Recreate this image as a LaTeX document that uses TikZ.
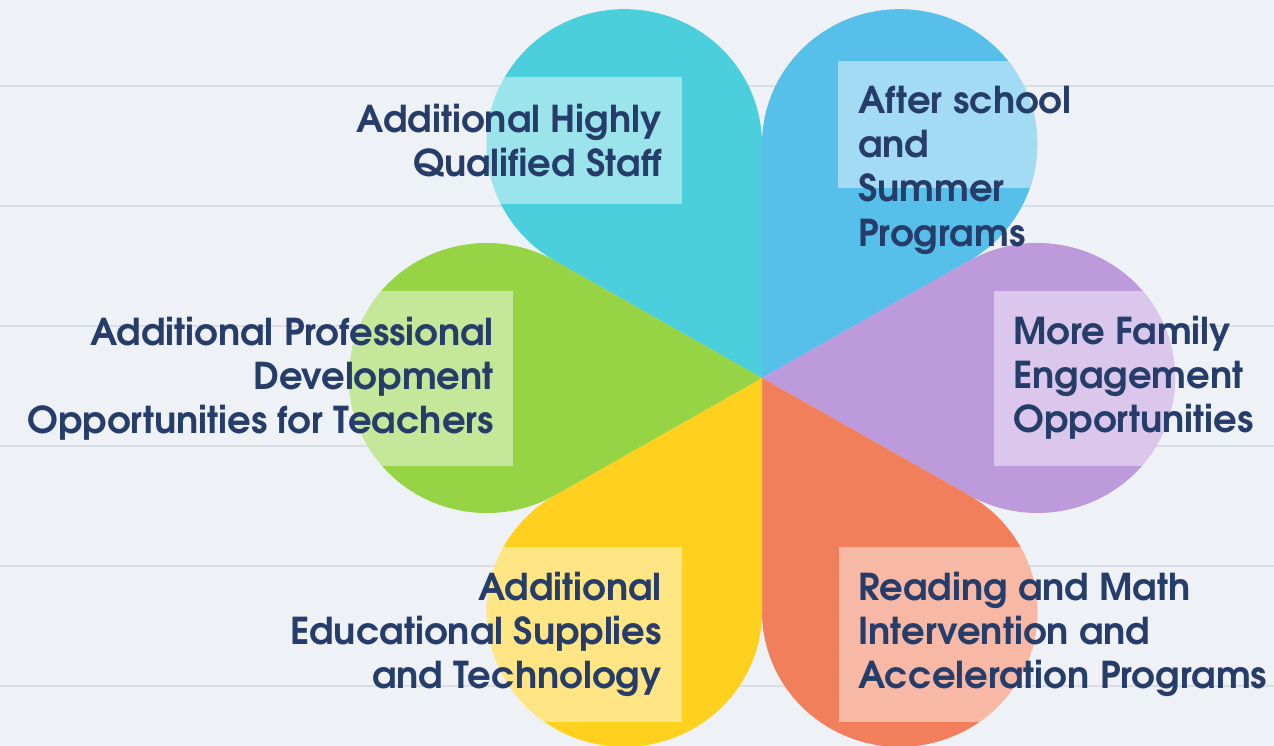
\documentclass[tikz,border=0pt]{standalone}
\usepackage{fontspec}
\setmainfont{TeX Gyre Adventor}
\definecolor{bgc}{HTML}{EEF2F6}
\definecolor{rulec}{HTML}{D9DEE4}
\definecolor{pcyan}{HTML}{4BCFDC}
\definecolor{pblue}{HTML}{56BFEA}
\definecolor{ppurple}{HTML}{BC9ADB}
\definecolor{porange}{HTML}{F27F5C}
\definecolor{pyellow}{HTML}{FFD11E}
\definecolor{pgreen}{HTML}{96D446}
\definecolor{txt}{HTML}{263D6A}
\newcommand\petalpath[1]{(0,0) -- ({#1-30}:233.83) arc[start angle={#1-120}, end angle={#1+120}, radius=135] -- cycle}
\tikzset{
  petal/.style={shift={(762,378)}, xscale=1.02},
  boxfill/.style={fill=white, fill opacity=0.45},
  lbl/.style={inner sep=0pt, text=txt, font=\fontsize{37}{44}\selectfont\bfseries},
  ruleline/.style={draw=rulec, line width=1.4pt}
}
\begin{document}
\begin{tikzpicture}[x=1pt,y=-1pt]
\useasboundingbox (0,0) rectangle (1274,746);
\fill[bgc] (0,0) rectangle (1274,746);
\foreach \yy in {86,206,326,446,566,686} \draw[ruleline] (0,\yy) -- (1274,\yy);
% petals
\fill[pcyan, petal] \petalpath{240};
\fill[pblue, petal] \petalpath{300};
\fill[ppurple, petal] \petalpath{0};
\fill[porange, petal] \petalpath{60};
\fill[pyellow, petal] \petalpath{120};
\fill[pgreen, petal] \petalpath{180};
% translucent text boxes
\begin{scope}\clip[petal] \petalpath{240}; \fill[boxfill] (470,77) rectangle (682,204);\end{scope}
\begin{scope}\clip[petal] \petalpath{300}; \fill[boxfill] (838,61) rectangle (1050,188);\end{scope}
\begin{scope}\clip[petal] \petalpath{180}; \fill[boxfill] (330,291) rectangle (513,466);\end{scope}
\begin{scope}\clip[petal] \petalpath{0}; \fill[boxfill] (994,291) rectangle (1190,466);\end{scope}
\begin{scope}\clip[petal] \petalpath{120}; \fill[boxfill] (470,547) rectangle (682,722);\end{scope}
\begin{scope}\clip[petal] \petalpath{60}; \fill[boxfill] (839,547) rectangle (1050,722);\end{scope}
% labels
\node[lbl, anchor=base east] (a1) at (662,133) {Additional Highly};
\node[lbl, anchor=base east] (a2) at (662,177) {Qualified Staff};
\node[lbl, anchor=base west] (b1) at (858,114) {After school};
\node[lbl, anchor=base west] (b2) at (858,158) {and};
\node[lbl, anchor=base west] (b3) at (858,202) {Summer};
\node[lbl, anchor=base west] (b4) at (858,246) {Programs};
\node[lbl, anchor=base east] (g1) at (494,345) {Additional Professional};
\node[lbl, anchor=base east] (g2) at (494,389) {Development};
\node[lbl, anchor=base east] (g3) at (494,433) {Opportunities for Teachers};
\node[lbl, anchor=base west] (p1) at (1013,344) {More Family};
\node[lbl, anchor=base west] (p2) at (1013,388) {Engagement};
\node[lbl, anchor=base west] (p3) at (1013,432) {Opportunities};
\node[lbl, anchor=base east] (y1) at (662,600) {Additional};
\node[lbl, anchor=base east] (y2) at (662,644) {Educational Supplies};
\node[lbl, anchor=base east] (y3) at (662,688) {and Technology};
\node[lbl, anchor=base west] (o1) at (858,600) {Reading and Math};
\node[lbl, anchor=base west] (o2) at (858,644) {Intervention and};
\node[lbl, anchor=base west] (o3) at (858,688) {Acceleration Programs};
\end{tikzpicture}
\end{document}
